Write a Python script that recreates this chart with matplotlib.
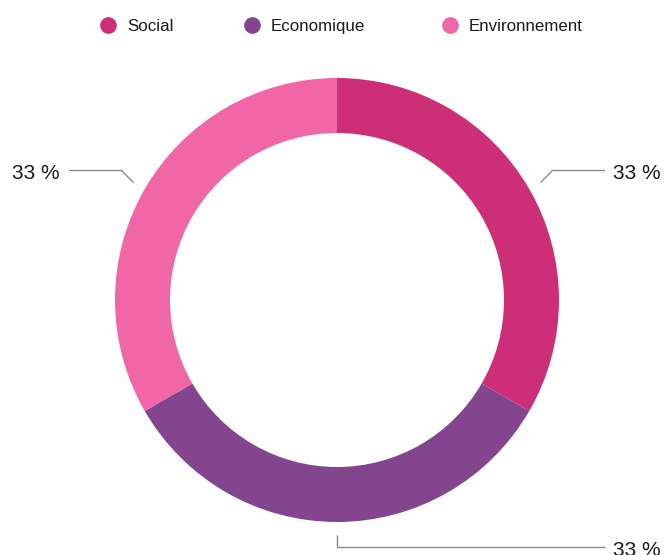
import numpy as np
import matplotlib
matplotlib.use("Agg")
import matplotlib.pyplot as plt

plt.rcParams['font.family'] = ['Liberation Sans', 'DejaVu Sans']

categories = ["Social", "Economique", "Environnement"]
values = [33.33, 33.33, 33.33]
labels = ["33 %", "33 %", "33 %"]
colors = ["#CC2E78", "#83458D", "#F066A6"]

W, H = 665, 555
fig = plt.figure(figsize=(W / 100, H / 100), dpi=100)
ax = fig.add_axes([0, 0, 1, 1])
ax.set_xlim(0, W)
ax.set_ylim(0, H)
ax.set_aspect('equal')
ax.axis('off')

cx, cy = 337, H - 300
R = 222
ring = 55

wedges, _ = ax.pie(values, colors=colors, startangle=90, counterclock=False,
                   radius=R, center=(cx, cy),
                   wedgeprops=dict(width=ring, edgecolor='none', linewidth=0))
ax.set_xlim(0, W)
ax.set_ylim(0, H)

for w, lab in zip(wedges, labels):
    ang = np.deg2rad((w.theta1 + w.theta2) / 2)
    d = np.array([np.cos(ang), np.sin(ang)])
    p1 = np.array([cx, cy]) + (R + 13) * d
    if abs(d[0]) < 1e-6:
        p2 = p1 + np.array([0, -12 if d[1] < 0 else 12])
        right = True
    else:
        right = d[0] > 0
        p2 = p1 + np.array([12 if right else -12, -12 if d[1] < 0 else 12])
    xend = 605 if right else 69
    ax.plot([p1[0], p2[0], xend], [p1[1], p2[1], p2[1]], color='#8a8a8a', lw=1.0,
            solid_joinstyle='miter', solid_capstyle='butt')
    ty = p2[1] - 8.5
    if right:
        ax.text(xend + 8, ty, lab, ha='left', va='baseline', fontsize=15, color='#1a1a1a')
    else:
        ax.text(xend - 9, ty, lab, ha='right', va='baseline', fontsize=15, color='#1a1a1a')

legend_x = [108, 252, 450]
ly = H - 25
for x, c, name in zip(legend_x, colors, categories):
    ax.plot([x], [ly], marker='o', markersize=12, markerfacecolor=c,
            markeredgecolor='none', linestyle='none')
    ax.text(x + 19, ly - 6, name, ha='left', va='baseline', fontsize=12.2, color='#1a1a1a')

fig.savefig("out.png", dpi=100)
